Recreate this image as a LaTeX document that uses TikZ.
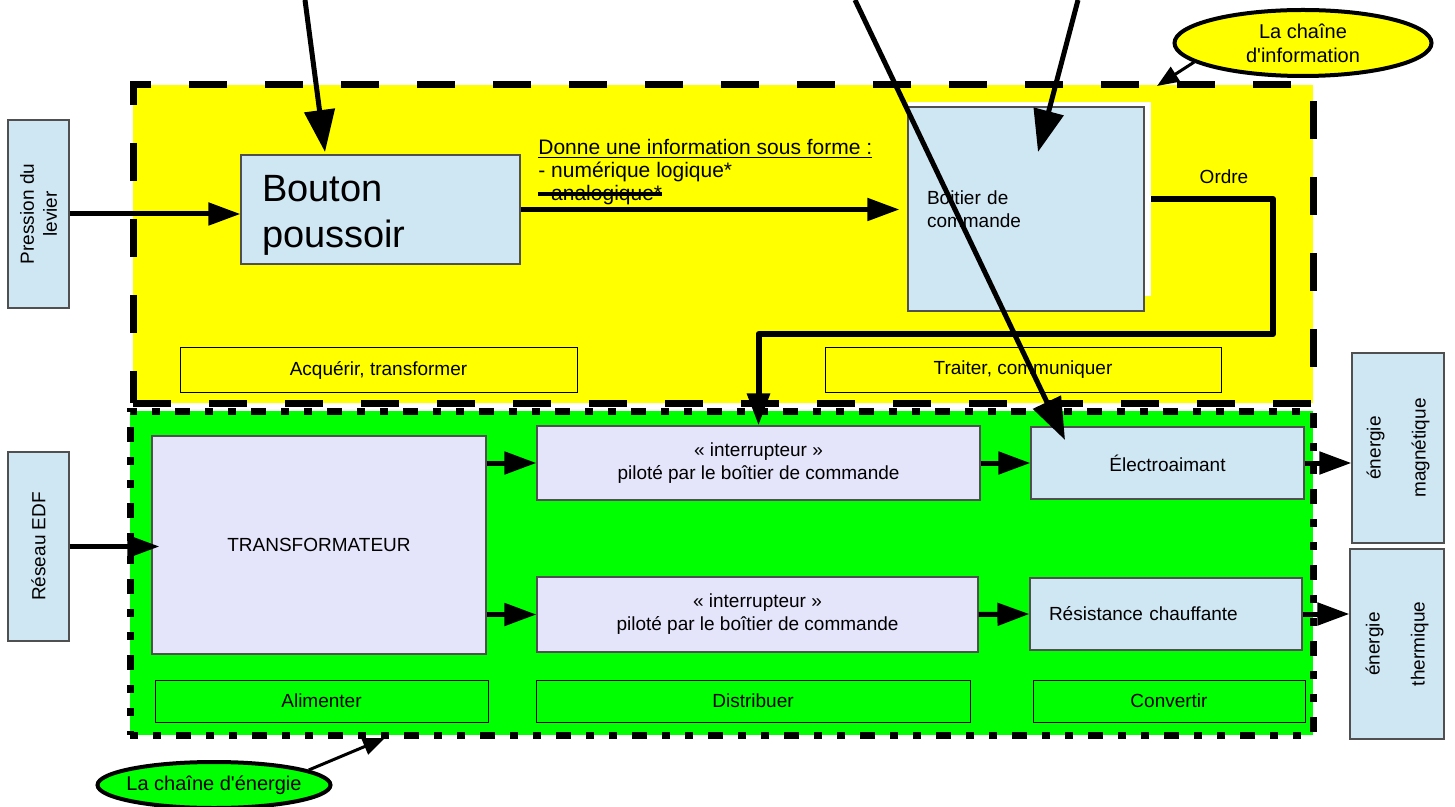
\documentclass[tikz,border=0pt]{standalone}
\usepackage{fontspec}
\setmainfont{Liberation Sans}
\usetikzlibrary{arrows.meta, positioning, shapes.geometric}
\definecolor{jaune}{RGB}{255,255,0}
\definecolor{vert}{RGB}{0,255,0}
\definecolor{bleuclair}{RGB}{207,230,243}
\definecolor{lavande}{RGB}{228,228,250}
\definecolor{bord}{RGB}{80,80,80}
\newsavebox\barrebox
\newcommand\barre[1]{\sbox\barrebox{#1}\rlap{\usebox\barrebox}\rule[0.22em]{\wd\barrebox}{2pt}}
\tikzset{
  taille/.style 2 args={minimum width=#1, minimum height=#2},
  bloc/.style={draw=bord, line width=0.6pt, inner sep=0pt, font=\fontsize{9.5}{11.5}\selectfont, align=center},
  bleu/.style={bloc, fill=bleuclair},
  lav/.style={bloc, fill=lavande},
  fonction/.style={draw=black, line width=0.5pt, inner sep=0pt, font=\fontsize{9.5}{11.5}\selectfont},
  zone/.style={draw=black, line width=3.5pt, inner sep=0pt},
  fleche/.style={line width=2.5pt, -{Triangle[length=16pt,width=11pt]}},
  grandefleche/.style={line width=2.5pt, -{Triangle[length=21pt,width=15pt]}},
  petitefleche/.style={line width=1.5pt, -{Triangle[length=11pt,width=8.5pt]}},
  bulle/.style={ellipse, draw=black, line width=2pt, font=\fontsize{10}{12}\selectfont, align=center, inner sep=0pt},
}
\begin{document}
\begin{tikzpicture}[x=0.5pt, y=-0.5pt]
  \useasboundingbox (0,0) rectangle (1455,807);
  % les deux chaines
  \node[zone, fill=jaune, taille={590pt}{159pt}, dash pattern=on 19pt off 19pt] (zoneinfo) at (723,244) {};
  \node[zone, fill=vert, taille={591.5pt}{162pt}, dash pattern=on 4pt off 7.5pt on 4pt off 7.5pt on 7.5pt off 7.5pt] (zoneenergie) at (721.5,573) {};

  \node[bleu, rotate=90, taille={94pt}{30.5pt}] (pression) at (38.5,214) {Pression du\\levier};
  \node[bleu, rotate=90, taille={94.5pt}{30.5pt}] (reseau) at (38.5,546.5) {Réseau EDF};
  \node[bleu, rotate=90, taille={95pt}{46pt}] (magnetique) at (1398,448) {énergie\\[11pt]magnétique};
  \node[bleu, rotate=90, taille={95pt}{47pt}] (thermique) at (1397,644) {énergie\\[11pt]thermique};

  \node[bleu, taille={139.5pt}{54.5pt}, text width=118.5pt, align=left, font=\fontsize{19}{23}\selectfont] (bouton) at (380.5,209.5) {\rule{0pt}{18.6pt}Bouton\\poussoir};
  \node[fill=white, inner sep=0pt, taille={121.5pt}{97pt}] (boitierfond) at (1029.5,199) {};
  \node[bleu, taille={118pt}{102pt}, text width=99pt, align=left] (boitier) at (1026,209) {Boitier de\\commande};
  \node[anchor=north west, align=left, inner sep=0pt, font=\fontsize{10.5}{11.5}\selectfont] (forme) at (538,139)
    {\underline{Donne une information sous forme :}\\- numérique logique*\\\barre{- analogique*}};
  \node[font=\fontsize{9.5}{11.5}\selectfont] (ordre) at (1224,177) {Ordre};

  \node[fonction, fill=jaune, taille={198.5pt}{22pt}] (acquerir) at (378.5,370) {Acquérir, transformer};
  \node[fonction, fill=jaune, taille={198pt}{22pt}] (traiter) at (1023,370) {Traiter, communiquer};

  \node[lav, taille={167pt}{109pt}] (transfo) at (319,545) {TRANSFORMATEUR};
  \node[lav, taille={221.5pt}{37pt}] (inter1) at (758.5,463) {« interrupteur »\\piloté par le boîtier de commande};
  \node[lav, taille={220.5pt}{37.5pt}] (inter2) at (757.5,614.5) {« interrupteur »\\piloté par le boîtier de commande};
  \node[bleu, taille={136.5pt}{36pt}] (electro) at (1167.5,463) {Électroaimant};
  \node[bleu, taille={136pt}{36pt}, text width=117pt, align=left] (resistance) at (1166,614) {Résistance chauffante};

  \node[fonction, fill=vert, taille={166.5pt}{21pt}] (alimenter) at (321.5,701) {Alimenter};
  \node[fonction, fill=vert, taille={217pt}{21pt}] (distribuer) at (753,701) {Distribuer};
  \node[fonction, fill=vert, taille={136pt}{21pt}] (convertir) at (1169,701) {Convertir};

  \node[bulle, fill=jaune, taille={128.5pt}{33pt}] (chaineinfo) at (1303,43) {La chaîne\\d\textquotesingle information};
  \node[bulle, fill=vert, taille={116.5pt}{23pt}, inner xsep=-5pt] (chaineenergie) at (214,785) {La chaîne d\textquotesingle énergie};

  % fleches
  \draw[fleche] (pression.south) -- (bouton.west |- pression.south);
  \draw[fleche] (bouton.east) -- ([xshift=-4pt]boitier.west |- bouton.east);
  \draw[line width=3pt, line join=round, -{Triangle[length=16pt,width=11pt]}] (boitierfond.east) -| (1273,334) -| (inter1.north);
  \draw[fleche] (reseau.south) -- ([xshift=4pt]transfo.west |- reseau.south);
  \draw[fleche] (transfo.east |- inter1.west) -- (inter1.west);
  \draw[fleche] (transfo.east |- inter2.west) -- (inter2.west);
  \draw[fleche] (inter1.east) -- (electro.west);
  \draw[fleche] (inter2.east) -- (resistance.west);
  \draw[fleche] (electro.east) -- (magnetique.north |- electro.east);
  \draw[fleche] (resistance.east) -- (thermique.north |- resistance.east);

  \coordinate (depart1) at (305,0);
  \coordinate (depart2) at (855,0);
  \coordinate (depart3) at (1078,0);
  \coordinate (cible1) at (325,152);
  \coordinate (cible2) at (1065,440);
  \coordinate (cible3) at (1038,152);
  \draw[grandefleche] (depart1) -- (cible1);
  \draw[grandefleche] (depart2) -- (cible2);
  \draw[grandefleche] (depart3) -- (cible3);

  \coordinate (coininfo) at (1157,86);
  \coordinate (coinenergie) at (385,738);
  \draw[petitefleche] (chaineinfo.190) -- (coininfo);
  \draw[petitefleche] (chaineenergie.9) -- (coinenergie);
\end{tikzpicture}
\end{document}
